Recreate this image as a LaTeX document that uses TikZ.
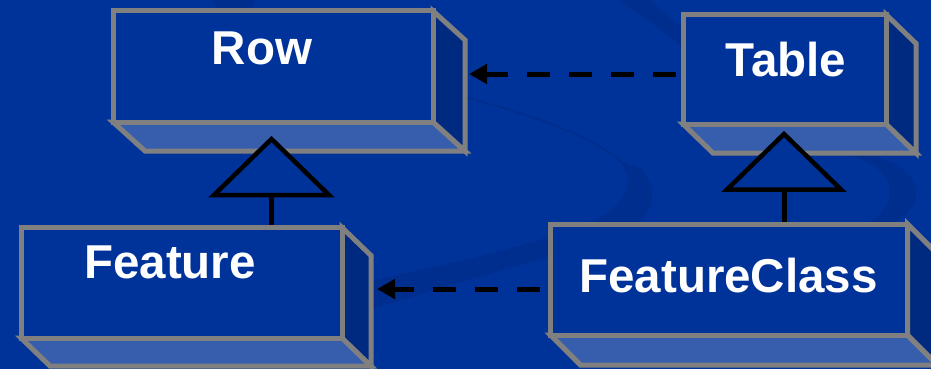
\documentclass[tikz,border=0pt]{standalone}
\usepackage{fontspec}
\setmainfont{Liberation Sans}
\usetikzlibrary{arrows.meta,calc}
\definecolor{bgblue}{RGB}{0,51,153}
\definecolor{sideblue}{RGB}{0,41,128}
\definecolor{bottomblue}{RGB}{54,94,173}
\definecolor{edgegray}{RGB}{128,128,128}
\definecolor{swooshdark}{RGB}{0,46,142}
\tikzset{
  cubeface/.style={draw=edgegray, line width=5pt, line join=miter},
  cubefront/.style={cubeface, fill=bgblue, inner sep=0pt},
  gentri/.style={draw=black, fill=bgblue, line width=4.5pt, line join=miter},
  genstem/.style={draw=black, line width=5pt},
  deparrow/.style={draw=black, line width=5pt, dash pattern=on 23pt off 19pt, -{Triangle[length=18pt,width=19pt]}},
  boxlabel/.style={text=white, font=\fontsize{47.5}{56}\selectfont\bfseries, inner sep=0pt, anchor=base}
}
% #1 name, #2 x1, #3 y1, #4 x2, #5 y2, #6 dx, #7 dy
\newcommand{\umlcube}[7]{%
  \filldraw[cubeface, fill=bottomblue] (#2,#5) -- (#4,#5) -- (#4+#6,#5+#7) -- (#2+#6,#5+#7) -- cycle;
  \filldraw[cubeface, fill=sideblue] (#4,#3) -- (#4+#6,#3+#7) -- (#4+#6,#5+#7) -- (#4,#5) -- cycle;
  \node[cubefront, minimum width={(#4-#2)*1pt}, minimum height={(#5-#3)*1pt}] (#1) at ({(#2+#4)/2},{(#3+#5)/2}) {};
}
\begin{document}
\begin{tikzpicture}[x=1pt,y=-1pt]
\useasboundingbox (0,0) rectangle (931,369);
\fill[bgblue] (0,0) rectangle (931,369);
% background swooshes
\fill[swooshdark] (360,283) .. controls (430,268) and (520,250) .. (590,222) .. controls (630,204) and (636,178) .. (618,160) -- (640,168) .. controls (664,192) and (655,226) .. (600,242) .. controls (530,263) and (440,287) .. (360,313) -- cycle;
\draw[swooshdark, line width=2pt] (460,96) .. controls (530,114) and (590,135) .. (622,162);
\fill[swooshdark] (872,156) .. controls (915,165) and (935,200) .. (895,222) -- (870,222) .. controls (902,200) and (895,170) .. (852,156) -- cycle;
\fill[swooshdark] (618,0) -- (650,0) -- (690,35) -- (690,55) .. controls (662,30) .. (618,0) -- cycle;
\fill[swooshdark] (212,0) -- (255,0) -- (250,10) -- (220,10) -- cycle;
% upper classes
\umlcube{row}{113}{11}{433}{122}{32}{29}
\umlcube{table}{683}{14.5}{886}{124}{30}{29}
% generalization triangles
\coordinate (rowbase) at (271.5,195);
\coordinate (tablebase) at (784,189.5);
\draw[gentri] (271.5,139) -- (329,195) -- (214,195) -- cycle;
\draw[gentri] (784,134) -- (841,189.5) -- (727,189.5) -- cycle;
% lower classes
\umlcube{feature}{21}{227.5}{342}{338}{29}{28}
\umlcube{featureclass}{550.5}{224}{907.5}{335}{30}{30}
\draw[genstem] (feature.north -| rowbase) -- (rowbase);
\draw[genstem] (featureclass.north -| tablebase) -- (tablebase);
% dependencies
\coordinate (rowport) at (469,74);
\coordinate (featureport) at (377,289);
\draw[deparrow, shorten <=4.5pt] (rowport -| table.west) -- (rowport);
\draw[deparrow, shorten <=8pt] (featureport -| featureclass.west) -- (featureport);
% labels
\node[boxlabel] (rowlabel) at (262,64) {Row};
\node[boxlabel] (tablelabel) at (786,77) {Table};
\node[boxlabel] (featurelabel) at (170,278) {Feature};
\node[boxlabel] (featureclasslabel) at (728.5,292) {FeatureClass};
\end{tikzpicture}
\end{document}
